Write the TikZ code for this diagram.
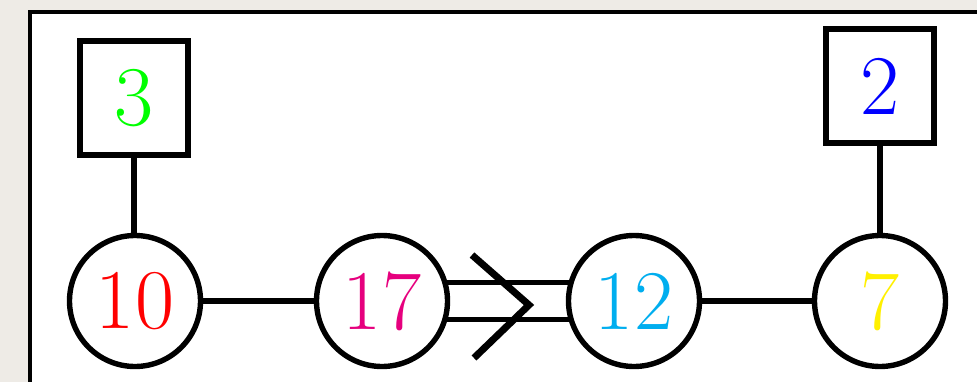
\documentclass[tikz,border=0pt]{standalone}
\usepackage{fontspec}
\usetikzlibrary{backgrounds,calc}
\definecolor{bgbeige}{RGB}{238,235,230}
\definecolor{cgreen}{RGB}{0,255,0}
\definecolor{cblue}{RGB}{0,0,255}
\definecolor{cred}{RGB}{255,0,0}
\definecolor{cmag}{RGB}{230,0,126}
\definecolor{ccyan}{RGB}{0,174,239}
\definecolor{cyel}{RGB}{255,240,0}
\tikzset{
  numnode/.style={circle,draw=black,line width=5.4pt,minimum size=131pt,inner sep=0pt,fill=white,
    font=\fontsize{85}{100}\selectfont},
  valbox/.style={rectangle,draw=black,line width=5.6pt,minimum width=108pt,minimum height=114pt,inner sep=0pt,fill=white,
    font=\fontsize{85}{100}\selectfont},
  link/.style={line width=5.2pt,draw=black}
}
\begin{document}
\begin{tikzpicture}[x=1pt,y=-1pt]
\useasboundingbox (0,0) rectangle (977,382);
% nodes
\node[numnode] (n10) at (135,301) {\textcolor{cred}{10}};
\node[numnode] (n17) at (382,301) {\textcolor{cmag}{17}};
\node[numnode] (n12) at (634,301) {\textcolor{ccyan}{12}};
\node[numnode] (n7)  at (880,301) {\textcolor{cyel}{7}};
\node[valbox] (b3) at (134,98) {\textcolor{cgreen}{3}};
\node[valbox] (b2) at (880,86) {\textcolor{cblue}{2}};
\begin{scope}[on background layer]
\fill[bgbeige] (0,0) rectangle (977,382);
\begin{scope}
\clip (0,0) rectangle (977,382);
\draw[line width=4pt,fill=white] (30,12) rectangle (1000,400);
\end{scope}
\draw[link] (b3.south) -- (b3.south |- n10.north);
\draw[link] (b2.south) -- (n7.north);
\draw[link] (n10) -- (n17);
\draw[link] (n12) -- (n7);
\draw[link] ($(n17.center)+(0,-18.5)$) -- ($(n12.center)+(0,-18.5)$);
\draw[link] ($(n17.center)+(0,18.5)$) -- ($(n12.center)+(0,18.5)$);
\end{scope}
% chevron
\coordinate (cA) at (472,255);
\coordinate (cB) at (529,305);
\coordinate (cC) at (474,358);
\draw[line width=7pt,line join=miter] (cA) -- (cB) -- (cC);
\end{tikzpicture}
\end{document}
